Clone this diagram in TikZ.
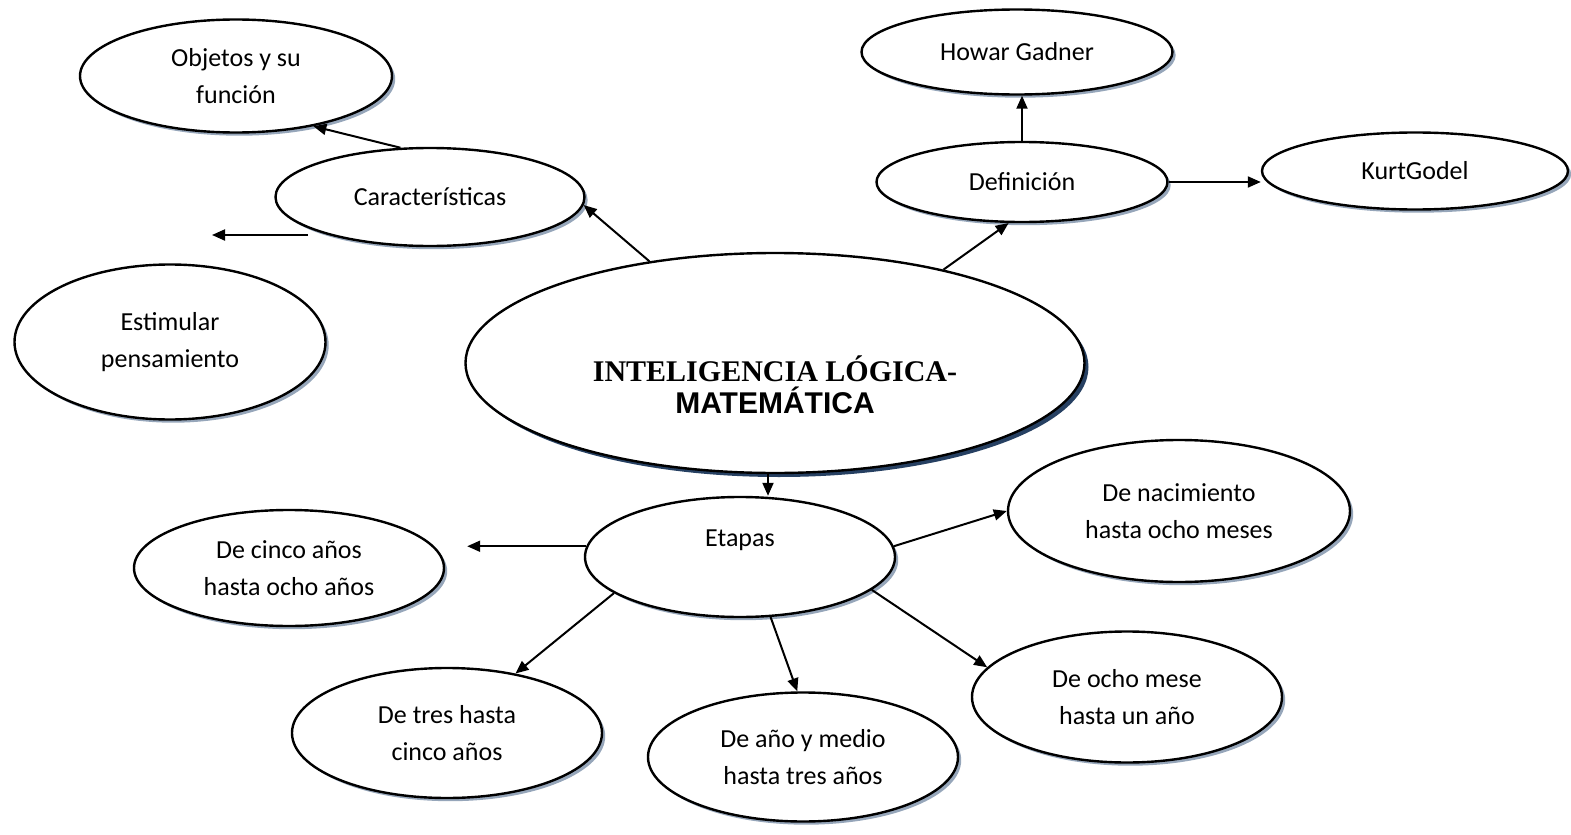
\documentclass[tikz,border=0pt]{standalone}
\usepackage{fontspec}
\setmainfont{Carlito}
\newfontfamily\titserif{Liberation Serif}
\newfontfamily\titsans{Liberation Sans}
\usetikzlibrary{arrows.meta}
\usetikzlibrary{shapes.geometric}
\usetikzlibrary{shadows}

\definecolor{sombra}{RGB}{150,166,186}
\definecolor{sombraosc}{RGB}{38,64,98}

\begin{document}
\begin{tikzpicture}[
    >={Triangle[length=6.5pt,width=5.5pt]},
    x=0.5pt, y=-0.5pt,
    globo/.style={
        ellipse,
        draw,
        line width=1.2pt,
        fill=white,
        inner sep=0pt,
        align=center,
        font=\fontsize{13}{18.5}\selectfont
    },
    burbuja/.style={
        globo,
        drop shadow={shadow xshift=1.6pt, shadow yshift=-1.6pt, fill=sombra, opacity=1}
    },
    centro/.style={
        globo,
        drop shadow={shadow xshift=2pt, shadow yshift=-2pt, fill=sombraosc, opacity=1}
    },
    titulo/.style={
        align=center,
        inner sep=0pt,
        font=\fontsize{15}{16}\selectfont\bfseries
    },
    flecha/.style={->, line width=1pt}
]

\useasboundingbox (0,0) rectangle (1571,835);

%---------------------------------
% Nodes
%---------------------------------

% Centre
\node[centro, minimum width=309.5pt, minimum height=110pt] (cen) at (775,363) {};
\node[titulo] (cenTxt) at ([yshift=-11pt]cen.center)
    {{\titserif INTELIGENCIA LÓGICA-}\\{\titsans MATEMÁTICA}};

% Left side
\node[burbuja, minimum width=156pt, minimum height=56.5pt] (obj) at (236,76) {Objetos y su\\función};
\node[burbuja, minimum width=154.5pt, minimum height=49pt] (car) at (430,197) {Características};
\node[burbuja, minimum width=155.5pt, minimum height=77.5pt] (est) at (170,342) {Estimular\\pensamiento};

% Right side
\node[burbuja, minimum width=155.5pt, minimum height=42.5pt] (how) at (1017,52) {Howar Gadner};
\node[burbuja, minimum width=145.5pt, minimum height=40pt] (def) at (1022,182) {Definición};
\node[burbuja, minimum width=153pt, minimum height=38.5pt] (kur) at (1415,171) {KurtGodel};

% Stages
\node[burbuja, minimum width=155pt, minimum height=60pt] (eta) at (740,557) {Etapas\\\mbox{}};
\node[burbuja, minimum width=155pt, minimum height=58pt] (cin) at (289,568) {De cinco años\\hasta ocho años};
\node[burbuja, minimum width=171pt, minimum height=71pt] (nac) at (1179,511) {De nacimiento\\hasta ocho meses};
\node[burbuja, minimum width=155pt, minimum height=65pt] (tre) at (447,733) {De tres hasta\\cinco años};
\node[burbuja, minimum width=155pt, minimum height=64.5pt] (ano) at (803,757) {De año y medio\\hasta tres años};
\node[burbuja, minimum width=155pt, minimum height=65.5pt] (och) at (1127,697) {De ocho mese\\hasta un año};

%---------------------------------
% Arrows
%---------------------------------

% From the centre
\draw[flecha] (cen.141) -- (car.-3);
\draw[flecha] (cen.29) -- (def.-108);
\draw[flecha] ([xshift=-3.5pt]cen.south) -- ([xshift=-3.5pt]cen.south |- eta.north);

% From Caracteristicas
\draw[flecha] (car.121) -- (obj.-33);
\draw[flecha] ([shift={(-122,38)}]car.center) -- ([shift={(42,-107)}]est.center);

% From Definicion
\draw[flecha] (def.north) -- (def.north |- how.south);
\draw[flecha] (def.east) -- (def.east -| kur.west);

% From Etapas
\draw[flecha, shorten >=11pt] (eta.176) -- (eta.176 -| cin.east);
\draw[flecha] (eta.4) -- (nac.west);
\draw[flecha] (eta.196) -- (tre.41);
\draw[flecha] (eta.-63) -- (ano.95);
\draw[flecha] (eta.-14) -- (och.168);

\end{tikzpicture}
\end{document}
